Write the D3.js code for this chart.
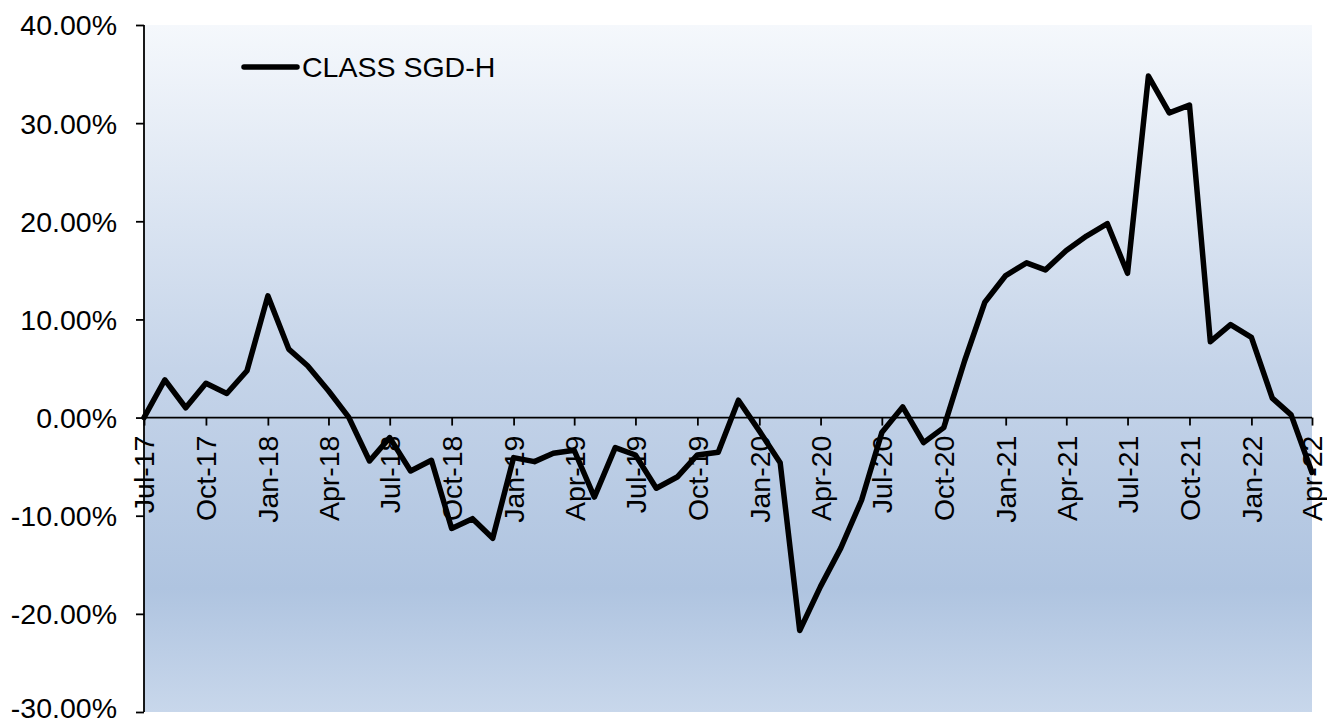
<!DOCTYPE html>
<html>
<head>
<meta charset="utf-8">
<script src="https://cdn.jsdelivr.net/npm/d3@7"></script>
<style>
  body { margin: 0; background: #fff; }
  text { font-family: "Liberation Sans", Arial, sans-serif; fill: #000; }
</style>
</head>
<body>
<div id="wrapper"></div>
<script>
// series: monthly returns, Jul-17 .. Apr-22
const startMonth = "2017-07";
const seriesName = "CLASS SGD-H";
const values = [
  0.0, 3.85, 1.0, 3.5, 2.45, 4.77, 12.4, 6.98, 5.28, 2.73,
  0.05, -4.42, -2.04, -5.44, -4.35, -11.3, -10.3, -12.3, -4.08, -4.49,
  -3.64, -3.33, -8.1, -3.06, -3.81, -7.2, -6.06, -3.81, -3.54, 1.77,
  -1.36, -4.6, -21.7, -17.2, -13.3, -8.4, -1.53, 1.09, -2.55, -1.02,
  5.79, 11.75, 14.47, 15.77, 15.05, 17.03, 18.5, 19.75, 14.7, 34.8,
  31.05, 31.84, 7.73, 9.47, 8.17, 1.98, 0.28, -5.6
];
const yTicks = [40, 30, 20, 10, 0, -10, -20, -30];

const parseMonth = d3.timeParse("%Y-%m");
const first = parseMonth(startMonth);
const dataset = values.map((v, i) => ({ date: d3.timeMonth.offset(first, i), value: v }));

const xAccessor = d => d.date;
const yAccessor = d => d.value;

let dimensions = {
  width: 1327,
  height: 724,
  margin: { top: 25, right: 15, bottom: 12, left: 144 },
};
dimensions.boundedWidth = dimensions.width - dimensions.margin.left - dimensions.margin.right;
dimensions.boundedHeight = dimensions.height - dimensions.margin.top - dimensions.margin.bottom;

const wrapper = d3.select("#wrapper")
  .append("svg")
  .attr("width", dimensions.width)
  .attr("height", dimensions.height);

// plot background gradient
const grad = wrapper.append("defs").append("linearGradient")
  .attr("id", "bg")
  .attr("x1", 0).attr("y1", 0).attr("x2", 0).attr("y2", 1);
grad.append("stop").attr("offset", "0%").attr("stop-color", "#f5f8fc");
grad.append("stop").attr("offset", "50%").attr("stop-color", "#c5d4e9");
grad.append("stop").attr("offset", "82%").attr("stop-color", "#afc4e0");
grad.append("stop").attr("offset", "100%").attr("stop-color", "#c8d7eb");

const bounds = wrapper.append("g")
  .attr("transform", `translate(${dimensions.margin.left},${dimensions.margin.top})`);

const xScaler = d3.scaleTime()
  .domain(d3.extent(dataset, xAccessor))
  .range([0, dimensions.boundedWidth]);

const yScaler = d3.scaleLinear()
  .domain([-30, 40])
  .range([dimensions.boundedHeight, 0]);

bounds.append("rect")
  .attr("x", 0)
  .attr("y", 0)
  .attr("width", dimensions.boundedWidth)
  .attr("height", dimensions.boundedHeight)
  .attr("fill", "url(#bg)");

// y axis
const yAxisGen = d3.axisLeft(yScaler)
  .tickValues(yTicks)
  .tickSize(8)
  .tickPadding(19)
  .tickFormat(d => d.toFixed(2) + "%");
const axisY = bounds.append("g").call(yAxisGen);
axisY.select(".domain").attr("d", `M0,0V${dimensions.boundedHeight}`);
axisY.selectAll("path, line").attr("stroke", "#000").attr("stroke-width", 1.8);
axisY.selectAll("text")
  .attr("font-size", "28.5px")
  .attr("font-family", "'Liberation Sans', Arial, sans-serif")
  .attr("dy", d => d === -30 ? "0.2em" : "0.35em");

// x axis on the zero line
const xAxisGen = d3.axisBottom(xScaler)
  .ticks(d3.timeMonth.every(3))
  .tickSize(8)
  .tickFormat(d3.timeFormat("%b-%y"));
const axisX = bounds.append("g")
  .attr("transform", `translate(0,${yScaler(0)})`)
  .call(xAxisGen);
axisX.select(".domain").attr("d", `M0,0H${dimensions.boundedWidth}`);
axisX.selectAll("path, line").attr("stroke", "#000").attr("stroke-width", 1.8);
axisX.selectAll("text")
  .attr("font-size", "28.5px")
  .attr("font-family", "'Liberation Sans', Arial, sans-serif")
  .attr("text-anchor", "end")
  .attr("transform", "rotate(-90)")
  .attr("x", -18)
  .attr("y", 0)
  .attr("dy", "0.35em");

// series line
const lineGen = d3.line()
  .x(d => xScaler(xAccessor(d)))
  .y(d => yScaler(yAccessor(d)));

bounds.append("path")
  .datum(dataset)
  .attr("d", lineGen)
  .attr("fill", "none")
  .attr("stroke", "#000")
  .attr("stroke-width", 5.5)
  .attr("stroke-linejoin", "round")
  .attr("stroke-linecap", "round");

// legend
const legend = wrapper.append("g");
legend.append("line")
  .attr("x1", 244).attr("x2", 297)
  .attr("y1", 67).attr("y2", 67)
  .attr("stroke", "#000")
  .attr("stroke-width", 5.5)
  .attr("stroke-linecap", "round");
legend.append("text")
  .attr("x", 302)
  .attr("y", 76.5)
  .attr("font-size", "28.5px")
  .text(seriesName);
</script>
</body>
</html>
